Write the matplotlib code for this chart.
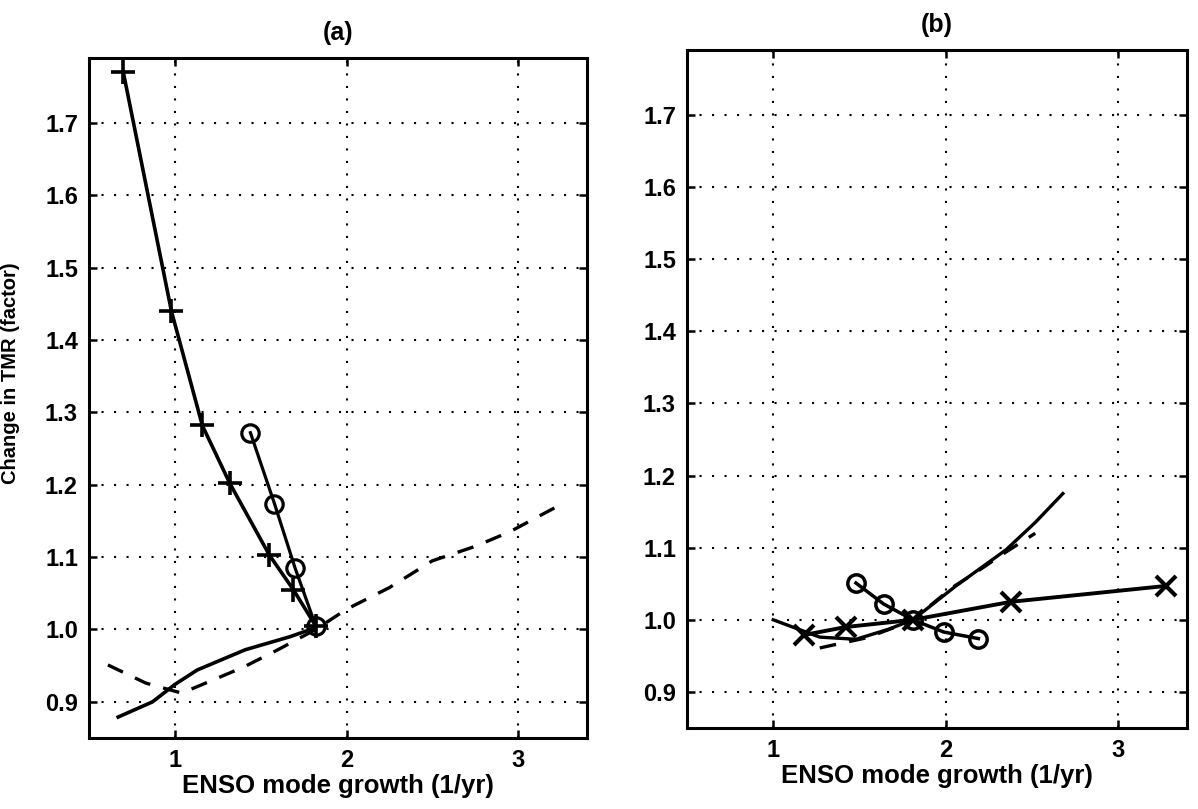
import numpy as np
import matplotlib
matplotlib.use("Agg")
import matplotlib.pyplot as plt

# ---- panel (a) data ----
a_plus_x = [0.70, 0.98, 1.16, 1.32, 1.55, 1.69, 1.82]
a_plus_y = [1.77, 1.44, 1.282, 1.202, 1.103, 1.055, 1.005]

a_circ_x = [1.44, 1.58, 1.70, 1.82]
a_circ_y = [1.272, 1.174, 1.085, 1.005]

a_solid_x = [0.67, 0.87, 1.00, 1.13, 1.41, 1.67, 1.79, 1.82]
a_solid_y = [0.879, 0.900, 0.924, 0.944, 0.972, 0.990, 1.000, 1.005]

a_dash_x = [0.61, 0.83, 1.04, 1.20, 1.40, 1.60, 1.82, 2.00, 2.25, 2.50, 2.75, 2.95, 3.21]
a_dash_y = [0.951, 0.926, 0.912, 0.928, 0.948, 0.972, 1.000, 1.028, 1.058, 1.095, 1.115, 1.135, 1.168]

# ---- panel (b) data ----
b_x_x = [1.18, 1.42, 1.81, 2.38, 3.28]
b_x_y = [0.979, 0.990, 1.000, 1.025, 1.047]

b_circ_x = [1.48, 1.64, 1.81, 1.99, 2.19]
b_circ_y = [1.051, 1.022, 1.000, 0.983, 0.974]

b_solid_x = [1.00, 1.27, 1.48, 1.67, 1.81, 2.06, 2.35, 2.52, 2.68]
b_solid_y = [1.000, 0.976, 0.973, 0.987, 1.000, 1.047, 1.097, 1.135, 1.175]

b_dash_x = [1.27, 1.54, 1.71, 1.81, 2.04, 2.19, 2.35, 2.52]
b_dash_y = [0.961, 0.975, 0.990, 1.000, 1.045, 1.068, 1.094, 1.120]

x_ticks = [1, 2, 3]
y_ticks = [0.9, 1.0, 1.1, 1.2, 1.3, 1.4, 1.5, 1.6, 1.7]

plt.rcParams['font.family'] = ['Liberation Sans', 'DejaVu Sans']
plt.rcParams['font.weight'] = 'bold'

W, H = 1198, 809
fig = plt.figure(figsize=(W / 100, H / 100), dpi=100)
ax_a = fig.add_axes([89 / W, 1 - 738 / H, 498 / W, 680 / H])
ax_b = fig.add_axes([687 / W, 1 - 728 / H, 500 / W, 678 / H])

DASH = (0, (5, 4))


def style_axes(ax, title):
    ax.set_xlim(0.5, 3.4)
    ax.set_ylim(0.85, 1.79)
    ax.set_xticks(x_ticks)
    ax.set_xticklabels([str(t) for t in x_ticks])
    ax.set_yticks(y_ticks)
    ax.set_yticklabels(['%.1f' % t for t in y_ticks])
    ax.grid(True, color='black', linestyle=(0, (1, 5)), linewidth=1.5)
    ax.tick_params(direction='in', length=6, width=1.8, top=True, right=True,
                   labelsize=17, pad=8)
    for lab in ax.get_xticklabels() + ax.get_yticklabels():
        lab.set_fontweight('bold')
    for sp in ax.spines.values():
        sp.set_linewidth(2.2)
    ax.set_title(title, fontsize=18, fontweight='bold', pad=13)
    ax.set_xlabel('ENSO mode growth (1/yr)', fontsize=18.5, fontweight='bold', labelpad=1)


# panel (a)
ax_a.plot(a_dash_x, a_dash_y, color='black', lw=2.4, linestyle=DASH)
ax_a.plot(a_solid_x, a_solid_y, color='black', lw=2.6)
ax_a.plot(a_plus_x, a_plus_y, color='black', lw=2.6, marker='+', ms=17, mew=2.6)
ax_a.plot(a_circ_x, a_circ_y, color='black', lw=2.3, marker='o', ms=12.5,
          mfc='none', mew=2.3)
style_axes(ax_a, '(a)')
ax_a.set_ylabel('Change in TMR (factor)', fontsize=14.5, fontweight='bold')
ax_a.yaxis.set_label_coords(-0.139, 0.537)

# panel (b)
ax_b.plot(b_dash_x, b_dash_y, color='black', lw=2.4, linestyle=DASH)
ax_b.plot(b_solid_x, b_solid_y, color='black', lw=2.4)
ax_b.plot(b_x_x, b_x_y, color='black', lw=2.8, marker='x', ms=14, mew=3.0)
ax_b.plot(b_circ_x, b_circ_y, color='black', lw=2.5, marker='o', ms=12.5,
          mfc='none', mew=2.5)
style_axes(ax_b, '(b)')

fig.savefig('out.png', dpi=100)
